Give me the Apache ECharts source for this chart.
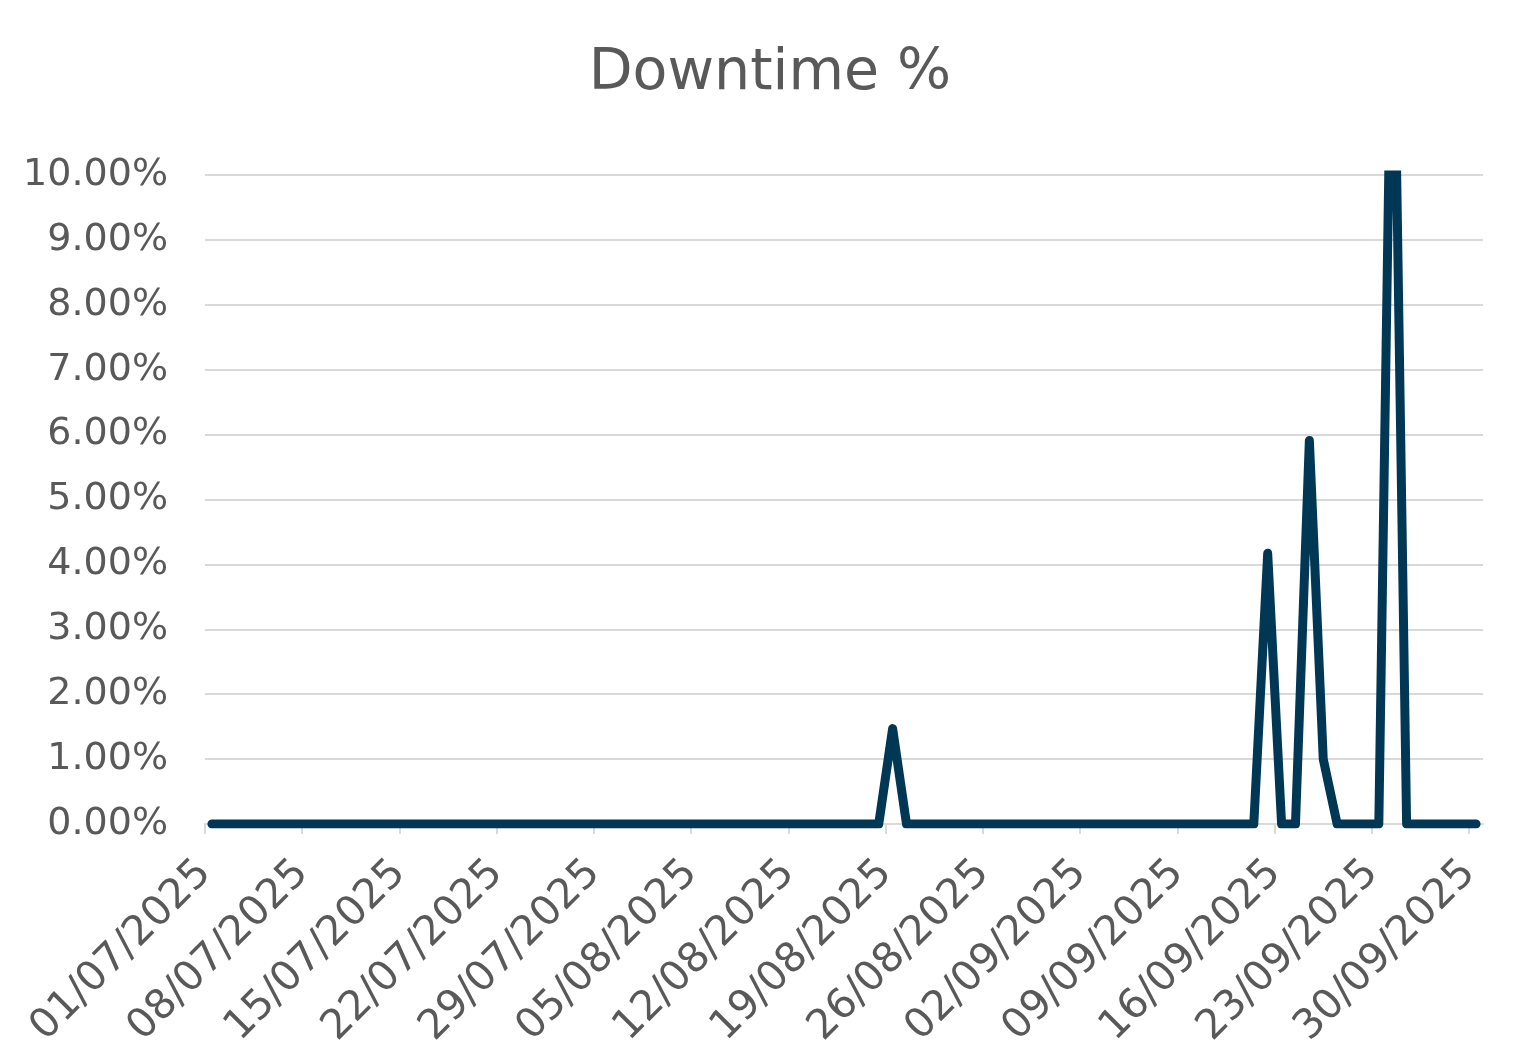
<!DOCTYPE html>
<html>
<head>
<meta charset="utf-8">
<script src="https://cdn.jsdelivr.net/npm/echarts@6/dist/echarts.min.js"></script>
<style>
html,body{margin:0;padding:0;background:#ffffff;}
#chart{width:1540px;height:1064px;}
</style>
</head>
<body>
<div id="chart"></div>
<script>
// ---- data ----
const chartTitle = 'Downtime %';
const startDate = [2025, 7, 1];          // 01/07/2025, one value per day
const labelEveryDays = 7;                 // date label every 7 days
// daily downtime in percent, 01/07/2025 .. 30/09/2025 (92 days)
const downtimePct = [
  0, 0, 0, 0, 0, 0, 0, 0, 0, 0,
  0, 0, 0, 0, 0, 0, 0, 0, 0, 0,
  0, 0, 0, 0, 0, 0, 0, 0, 0, 0,
  0, 0, 0, 0, 0, 0, 0, 0, 0, 0,
  0, 0, 0, 0, 0, 0, 0, 0, 0, 1.47,
  0, 0, 0, 0, 0, 0, 0, 0, 0, 0,
  0, 0, 0, 0, 0, 0, 0, 0, 0, 0,
  0, 0, 0, 0, 0, 0, 4.17, 0, 0, 5.91,
  1.00, 0, 0, 0, 0, 14.0, 0, 0, 0, 0,
  0, 0
];
const yMin = 0, yMax = 10, yStep = 1;

// ---- helpers ----
function dayLabel(d) {
  const t = new Date(Date.UTC(startDate[0], startDate[1] - 1, startDate[2] + d));
  const dd = String(t.getUTCDate()).padStart(2, '0');
  const mm = String(t.getUTCMonth() + 1).padStart(2, '0');
  return dd + '/' + mm + '/' + t.getUTCFullYear();
}
const dayCount = downtimePct.length;
const tickDays = [];
for (let d = 0; d < dayCount; d += labelEveryDays) tickDays.push(d);
// each day occupies one unit slot; the point sits in the middle of its day
const seriesData = downtimePct.map((v, i) => [i + 0.5, v]);

const textColor = '#595959';
const gridColor = '#d9d9d9';
const fontFamily = '"DejaVu Sans", sans-serif';

const chart = echarts.init(document.getElementById('chart'), null, {renderer: 'canvas'});
chart.setOption({
  backgroundColor: '#ffffff',
  animation: false,
  title: {
    text: chartTitle,
    left: 'center',
    top: 41,
    textStyle: {color: textColor, fontSize: 57, fontWeight: 'normal', fontFamily: fontFamily}
  },
  grid: {left: 205, right: 57, top: 175, bottom: 240},
  xAxis: {
    type: 'value',
    min: 0,
    max: dayCount,
    interval: labelEveryDays,
    splitLine: {show: false},
    axisLine: {show: true, onZero: false, lineStyle: {color: gridColor, width: 2}},
    axisTick: {show: true, length: 10, lineStyle: {color: gridColor, width: 2}, customValues: tickDays},
    axisLabel: {
      customValues: tickDays,
      rotate: 45,
      margin: 43,
      color: textColor,
      fontSize: 41,
      fontFamily: fontFamily,
      formatter: v => dayLabel(Math.round(v))
    }
  },
  yAxis: {
    type: 'value',
    min: yMin,
    max: yMax,
    interval: yStep,
    axisLine: {show: false},
    axisTick: {show: false},
    splitLine: {show: true, lineStyle: {color: gridColor, width: 2}},
    axisLabel: {
      margin: 37,
      color: textColor,
      fontSize: 38,
      fontFamily: fontFamily,
      formatter: v => v.toFixed(2) + '%'
    }
  },
  series: [{
    type: 'line',
    name: chartTitle,
    data: seriesData,
    showSymbol: false,
    symbol: 'none',
    clip: true,
    lineStyle: {color: '#003754', width: 9, cap: 'round', join: 'round'},
    z: 5
  }]
});
</script>
</body>
</html>
